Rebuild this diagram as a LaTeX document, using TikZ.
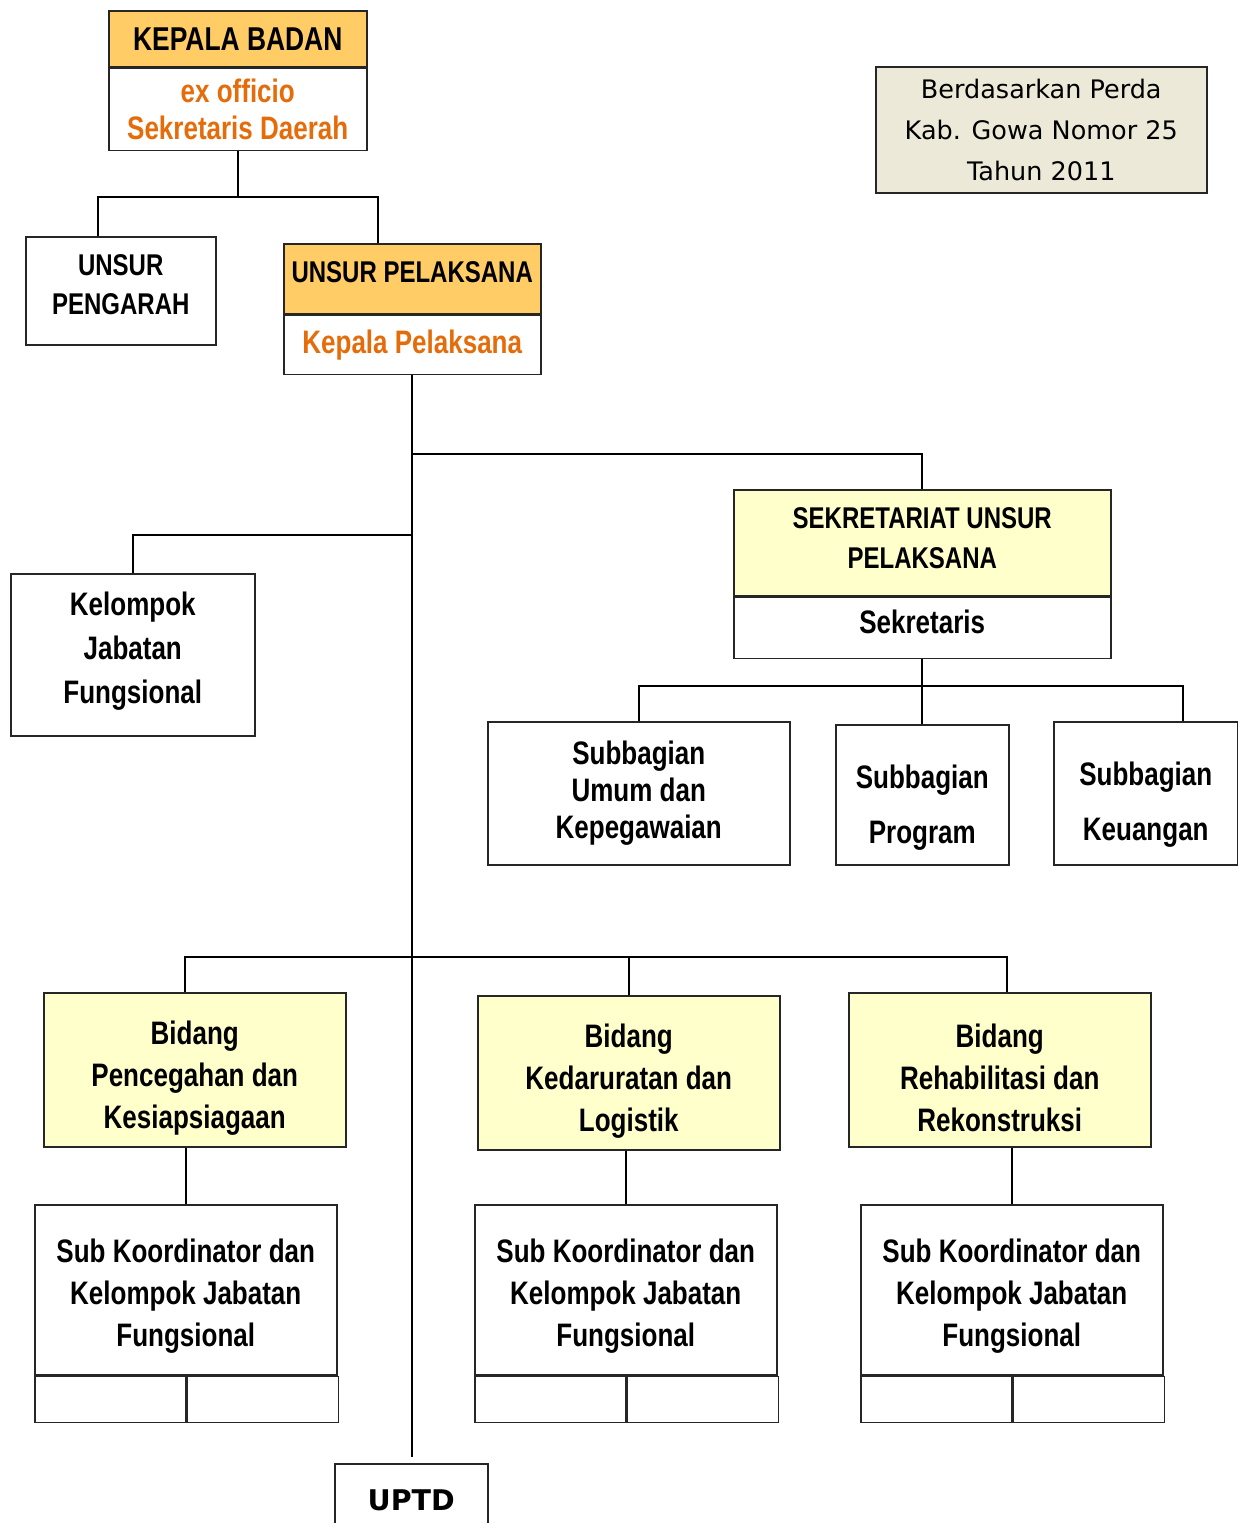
\documentclass[tikz,border=0pt]{standalone}
\usepackage{fontspec}
\setmainfont{Liberation Sans}
\newfontfamily\narrowsf[FakeStretch=0.8]{Liberation Sans}
\newfontfamily\perdafont{DejaVu Sans}
\definecolor{hdrorange}{RGB}{255,204,102}
\definecolor{boxyellow}{RGB}{255,255,204}
\definecolor{txtorange}{RGB}{228,108,10}
\definecolor{perdagray}{RGB}{236,233,216}
\newcommand\dropby[1]{\rule{0pt}{#1}}
\tikzset{
  box/.style={draw=black!85, line width=1.5pt, rectangle, anchor=north west, inner sep=0pt, align=center,
    font=\narrowsf\bfseries\fontsize{32.5}{42}\selectfont},
  hdr/.style={box, fill=hdrorange, font=\narrowsf\bfseries\fontsize{30}{40}\selectfont},
  bidang/.style={box, fill=boxyellow, minimum width=302pt, minimum height=154pt},
  cell/.style={box, minimum width=151pt, minimum height=46pt},
  link/.style={line width=2pt},
  txtup/.style={execute at end node={\rule[-#1]{0pt}{0pt}}},
}
\begin{document}
\begin{tikzpicture}[x=1pt,y=-1pt]
\useasboundingbox (0,0) rectangle (1238,1523);
% kepala badan
\node[hdr, minimum width=258pt, minimum height=56pt, font=\narrowsf\bfseries\fontsize{33}{40}\selectfont] (kbh) at (108,10) {KEPALA BADAN};
\node[box, text=txtorange, minimum width=258pt, minimum height=82pt, font=\narrowsf\bfseries\fontsize{32.5}{37}\selectfont] (kbb) at (kbh.south west) {ex officio\\Sekretaris Daerah};
% unsur pengarah / pelaksana
\node[box, minimum width=190pt, minimum height=108pt, txtup=12pt, font=\narrowsf\bfseries\fontsize{30}{39}\selectfont] (upg) at (25,236) {UNSUR\\PENGARAH};
\node[hdr, minimum width=257pt, minimum height=70pt, txtup=14pt] (uph) at (283,243) {UNSUR PELAKSANA};
\node[box, text=txtorange, minimum width=257pt, minimum height=59pt] (upb) at (uph.south west) {Kepala Pelaksana};
% perda
\node[box, fill=perdagray, minimum width=331pt, minimum height=126pt, font=\perdafont\fontsize{25.5}{41}\selectfont] (perda) at (875,66) {Berdasarkan Perda\\Kab. Gowa Nomor 25\\Tahun 2011};
% kelompok jabatan fungsional
\node[box, minimum width=244pt, minimum height=162pt, txtup=15pt, font=\narrowsf\bfseries\fontsize{32.5}{44}\selectfont] (kjf) at (10,573) {Kelompok\\Jabatan\\Fungsional};
% sekretariat
\node[box, fill=boxyellow, minimum width=377pt, minimum height=106pt, txtup=10pt, font=\narrowsf\bfseries\fontsize{30}{40}\selectfont] (sekh) at (733,489) {SEKRETARIAT UNSUR\\PELAKSANA};
\node[box, minimum width=377pt, minimum height=61pt, txtup=12pt] (sekb) at (sekh.south west) {Sekretaris};
\node[box, minimum width=302pt, minimum height=143pt, font=\narrowsf\bfseries\fontsize{32.5}{37}\selectfont] (sbu) at (487,721) {Subbagian\\Umum dan\\Kepegawaian};
\node[box, minimum width=173pt, minimum height=140pt, font=\narrowsf\bfseries\fontsize{32.5}{55}\selectfont] (sbp) at (835,724) {\dropby{50pt}Subbagian\\Program};
\node[box, minimum width=184pt, minimum height=143pt, font=\narrowsf\bfseries\fontsize{32.5}{55}\selectfont] (sbk) at (1053,721) {\dropby{46pt}Subbagian\\Keuangan};
% bidang
\node[bidang] (bd1) at (43,992) {\dropby{40pt}Bidang\\Pencegahan dan\\Kesiapsiagaan};
\node[bidang] (bd2) at (477,995) {\dropby{40pt}Bidang\\Kedaruratan dan\\Logistik};
\node[bidang] (bd3) at (848,992) {\dropby{40pt}Bidang\\Rehabilitasi dan\\Rekonstruksi};
% sub koordinator
\node[box, minimum width=302pt, minimum height=170pt] (sk1) at (34,1204) {\dropby{36pt}Sub Koordinator dan\\Kelompok Jabatan\\Fungsional};
\node[cell] (sk1a) at (sk1.south west) {};
\node[cell] (sk1b) at (sk1a.north east) {};
\node[box, minimum width=302pt, minimum height=170pt] (sk2) at (474,1204) {\dropby{36pt}Sub Koordinator dan\\Kelompok Jabatan\\Fungsional};
\node[cell] (sk2a) at (sk2.south west) {};
\node[cell] (sk2b) at (sk2a.north east) {};
\node[box, minimum width=302pt, minimum height=170pt] (sk3) at (860,1204) {\dropby{36pt}Sub Koordinator dan\\Kelompok Jabatan\\Fungsional};
\node[cell] (sk3a) at (sk3.south west) {};
\node[cell] (sk3b) at (sk3a.north east) {};
% uptd
\node[box, minimum width=153pt, minimum height=74pt, font=\perdafont\bfseries\fontsize{28.5}{34}\selectfont] (uptd) at (334,1463) {UPTD};
% garis
\draw[link] (kbb.south) -- (kbb.south |- 0,197);
\draw[link] ([xshift=-23pt]upg.north) |- (kbb.south |- 0,197) -| ([xshift=-34pt]uph.north);
\draw[link, shorten >=6pt] (upb.south) -- (upb.south |- uptd.north);
\draw[link] (upb.south |- 0,454) -| (sekh.north);
\draw[link] (upb.south |- 0,535) -| (kjf.north);
\draw[link] (sekb.south) -- (sbp.north);
\draw[link] (sbu.north) |- (sekb.south |- 0,686) -| ([xshift=37pt]sbk.north);
\draw[link] ([xshift=-10pt]bd1.north) |- ([xshift=7pt]bd3.north |- 0,957) -- ([xshift=7pt]bd3.north);
\draw[link] (bd2.north) -- (bd2.north |- 0,957);
\draw[link] (sk1.north |- bd1.south) -- (sk1.north);
\draw[link] (sk2.north |- bd2.south) -- (sk2.north);
\draw[link] (sk3.north |- bd3.south) -- (sk3.north);
\end{tikzpicture}
\end{document}
